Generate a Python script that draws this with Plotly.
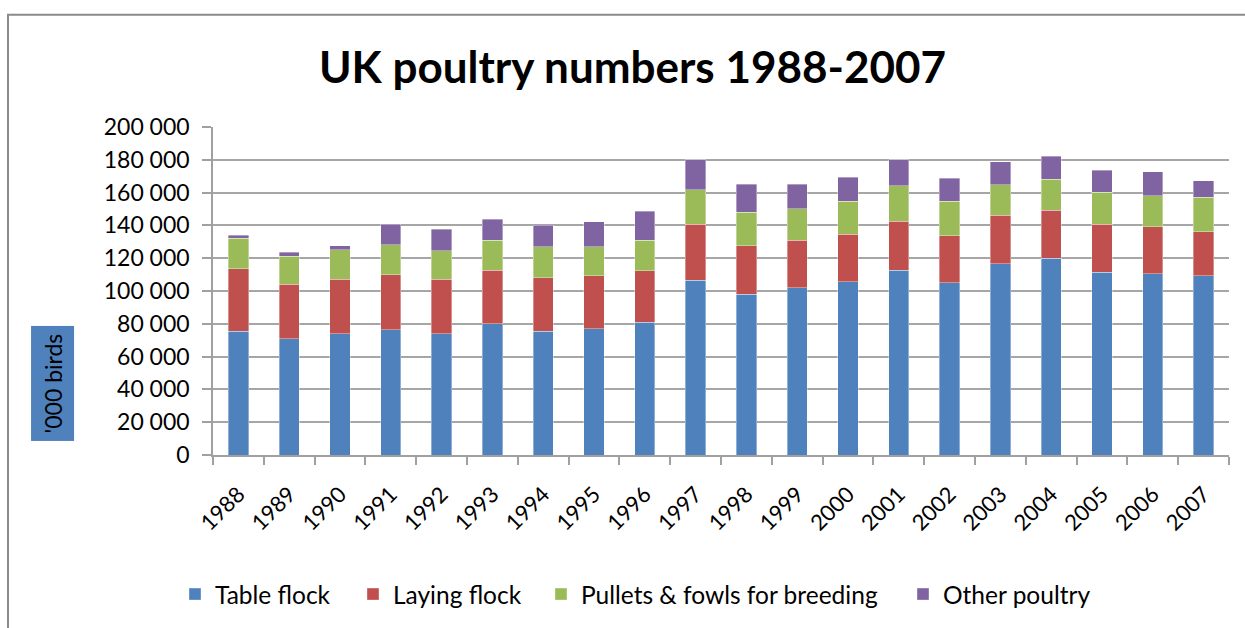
import plotly.graph_objects as go

years = [str(y) for y in range(1988, 2008)]

# '000 birds, by flock type
table_flock = [75400, 71000, 73900, 76300, 73900, 80100, 75400, 77100, 81100, 106600,
               98100, 101900, 105700, 112800, 105100, 116600, 119900, 111400, 110600, 109200]
laying_flock = [38200, 33100, 33400, 33500, 33400, 32700, 32700, 32100, 31100, 34000,
                29400, 28900, 28900, 29700, 28700, 29700, 29400, 29400, 28700, 27000]
pullets_breeding = [18600, 17200, 17800, 18500, 17200, 18000, 18800, 17700, 18600, 21200,
                    20400, 19300, 20200, 21600, 21000, 18600, 18800, 19400, 18700, 21000]
other_poultry = [1800, 2200, 2400, 12300, 13100, 13100, 13300, 15400, 17900, 18200,
                 17100, 14900, 14700, 15900, 14100, 13900, 14100, 13300, 14700, 10100]

series = [
    ("Table flock", table_flock, "#4F81BD"),
    ("Laying flock", laying_flock, "#C0504D"),
    ("Pullets & fowls for breeding", pullets_breeding, "#9BBB59"),
    ("Other poultry", other_poultry, "#8064A2"),
]

FONT = "Lato"

# plot area in pixels: x 213..1229, y 127..457
L, R, T, B = 213, 16, 127, 171
W, H = 1245 - L - R, 628 - T - B

def px_to_paper_x(px):
    return (px - L) / W

def px_to_paper_y(py):
    return (628 - B - py) / H

# each legend entry gets its own legend box so the spacing can be set freely
legend_ids = ["legend", "legend2", "legend3", "legend4"]
legend_left_px = [175, 353, 541, 903]

fig = go.Figure()
for (name, vals, color), lid in zip(series, legend_ids):
    fig.add_trace(go.Bar(
        x=years, y=vals, name=name, legend=lid,
        marker=dict(color=color, line=dict(width=0.6, color="rgba(255,255,255,0.6)")),
    ))

legend_layout = {}
for lid, lx in zip(legend_ids, legend_left_px):
    legend_layout[lid] = dict(
        orientation="h", x=px_to_paper_x(lx), xanchor="left",
        y=px_to_paper_y(597), yanchor="middle",
        font=dict(family=FONT, size=24.5, color="#000000"),
        itemwidth=30, bgcolor="rgba(0,0,0,0)",
    )

fig.update_layout(
    width=1245, height=628,
    margin=dict(l=L, r=R, t=T, b=B, pad=0),
    paper_bgcolor="white", plot_bgcolor="white",
    barmode="stack", bargap=0.6,
    separators=". ",
    font=dict(family=FONT, color="#000000"),
    title=dict(text="<b>UK poultry numbers 1988-2007</b>",
               font=dict(family=FONT, size=44, color="#000000"),
               x=0.508, xanchor="center", y=0.893, yanchor="middle"),
    showlegend=True,
    **legend_layout,
    xaxis=dict(
        type="category", tickangle=-45, tickson="boundaries",
        ticks="outside", ticklen=8, tickcolor="#A0A0A0", tickwidth=1.5,
        showline=True, linecolor="#A0A0A0", linewidth=1.5,
        showgrid=False, ticklabelstandoff=16,
        tickfont=dict(family=FONT, size=22, color="#000000"),
    ),
    yaxis=dict(
        range=[0, 200000], dtick=20000, tickformat=",d",
        ticks="outside", ticklen=9, tickcolor="#A0A0A0", tickwidth=1.5,
        showline=True, linecolor="#A0A0A0", linewidth=1.5,
        showgrid=True, gridcolor="#A6A6A6", gridwidth=1.5,
        zeroline=False, ticklabelstandoff=8,
        tickfont=dict(family=FONT, size=23, color="#000000"),
    ),
)

# y-axis caption in a filled box
fig.add_annotation(
    text="'000 birds", textangle=-90,
    xref="paper", yref="paper",
    x=px_to_paper_x(53), y=px_to_paper_y(385),
    xanchor="center", yanchor="middle", showarrow=False,
    font=dict(family=FONT, size=23, color="#000000"),
    bgcolor="#4F81BD", borderpad=7,
)

# chart frame
fig.add_shape(
    type="rect", xref="paper", yref="paper",
    x0=px_to_paper_x(8), x1=px_to_paper_x(1260),
    y0=px_to_paper_y(640), y1=px_to_paper_y(14),
    line=dict(color="#8A8A8A", width=2), fillcolor="rgba(0,0,0,0)",
    layer="below",
)

fig.write_html("out.html")
